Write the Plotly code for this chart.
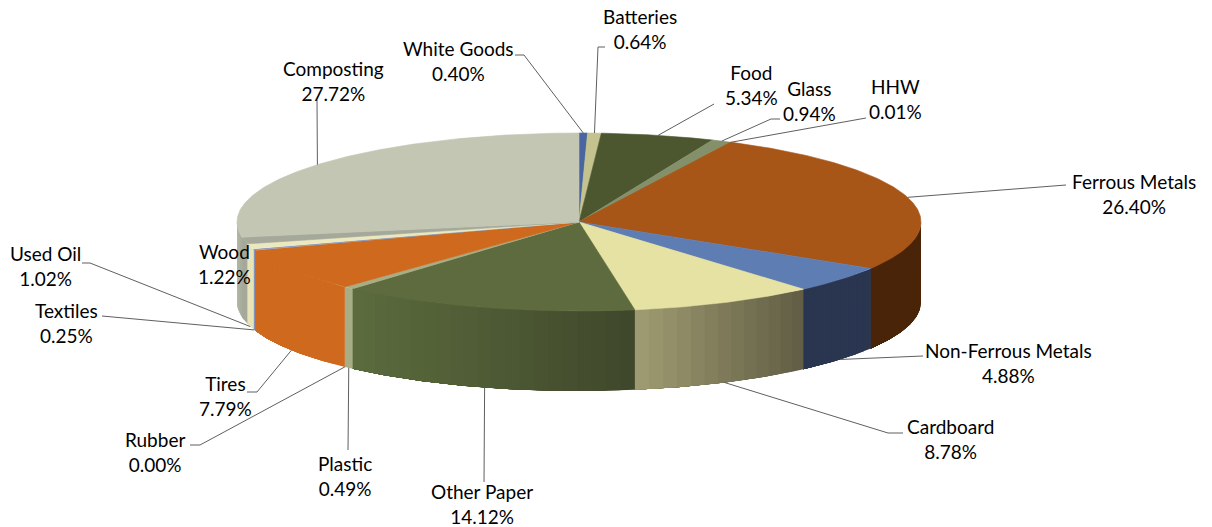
import math
import plotly.graph_objects as go

labels = ["White Goods", "Batteries", "Food", "Glass", "HHW", "Ferrous Metals", "Non-Ferrous Metals",
          "Cardboard", "Other Paper", "Plastic", "Rubber", "Tires", "Textiles", "Used Oil", "Wood", "Composting"]
values = [0.40, 0.64, 5.34, 0.94, 0.01, 26.40, 4.88, 8.78, 14.12, 0.49, 0.00, 7.79, 0.25, 1.02, 1.22, 27.72]
top_colors = ["#4A66A0", "#C4C28E", "#4C5730", "#84906A", "#A85518", "#A85518", "#5E7DB3", "#E6E2A3",
              "#5E6B3E", "#A7AE85", "#A7AE85", "#CF691E", "#8494B8", "#EBE7BE", "#A5A99A", "#C2C6B2"]
wall_left = ["#4A66A0", "#C4C28E", "#4C5730", "#84906A", "#4A2408", "#4A2408", "#2A3550", "#A09C72",
             "#5C6C3E", "#A7AE85", "#A7AE85", "#CF691E", "#8494B8", "#E8E3B8", "#A5A99A", "#B4B8A6"]
wall_right = ["#4A66A0", "#C4C28E", "#4C5730", "#84906A", "#4A2408", "#4A2408", "#2A3550", "#605D44",
              "#3F472A", "#A7AE85", "#A7AE85", "#CF691E", "#8494B8", "#E8E3B8", "#A5A99A", "#A5A99A"]

# label centre (x, y) and the leader's elbow points in page pixels; None = no leader
label_pos = [(458, 61), (640, 29), (751, 85), (809, 101), (895, 99), (1134, 194), (1008, 363),
             (950, 439), (482, 504), (345, 476), (155, 452), (225, 396), (66, 323), (45, 266), (224, 264), (333, 81)]
leader_pts = [[(515, 55), (524, 55)], [(605, 47), (598, 47)], [(714, 104)], [(780, 119), (771, 119)], [(866, 118)],
              [(1066, 185)], [(923, 356)], [(903, 433), (888, 433)], [(484, 482)], [(348, 450)],
              [(190, 445), (200, 445)], [(247, 392), (257, 392)], [(102, 316)], [(82, 263), (90, 263)], None, [(317, 100)]]

CX, CY, RX, RY, DEPTH = 579, 222, 342, 89, 80
FONT = "Lato"
FONT_SIZE = 19
LEADER = "#5F5F5F"


def pt(deg, drop=0):
    a = math.radians(deg)
    return CX + RX * math.sin(a), CY - RY * math.cos(a) + drop


def arc(a0, a1, drop=0, step=0.5):
    n = max(1, math.ceil(abs(a1 - a0) / step))
    return [pt(a0 + (a1 - a0) * i / n, drop) for i in range(n + 1)]


def mix(c0, c1, t):
    p = [int(c0[i:i + 2], 16) for i in (1, 3, 5)]
    q = [int(c1[i:i + 2], 16) for i in (1, 3, 5)]
    return "rgb(%d,%d,%d)" % tuple(round(a + (b - a) * t) for a, b in zip(p, q))


def poly(fig, pts, color, hover=None, line=0.6):
    xs = [p[0] for p in pts] + [pts[0][0]]
    ys = [p[1] for p in pts] + [pts[0][1]]
    fig.add_trace(go.Scatter(x=xs, y=ys, mode="lines", fill="toself", fillcolor=color,
                             line=dict(color=color, width=line), showlegend=False,
                             hoverinfo="text" if hover else "skip", text=hover, hoveron="fills"))


fig = go.Figure()
total = sum(values)
edges = [0.0]
for v in values:
    edges.append(edges[-1] + v / total * 360)

# side walls (only the front half, angles 90..270, is visible)
# each band runs to the end of its slice and the next one paints over it, so no seams show;
# the shading follows the horizontal position on the page
for i, lab in enumerate(labels):
    a0, a1 = max(edges[i], 90), min(edges[i + 1], 270)
    if a1 <= a0:
        continue
    x0, x1 = pt(a0)[0], pt(a1)[0]
    bands = max(1, math.ceil((a1 - a0) / 2.5))
    for b in range(bands):
        s0 = a0 + (a1 - a0) * b / bands
        s_mid = a0 + (a1 - a0) * (b + 0.5) / bands
        t = (pt(s_mid)[0] - x0) / (x1 - x0) if x1 != x0 else 0
        poly(fig, arc(s0, a1) + arc(a1, s0, DEPTH), mix(wall_right[i], wall_left[i], t), line=0)

# top faces
for i, lab in enumerate(labels):
    if values[i] <= 0:
        continue
    poly(fig, [(CX, CY)] + arc(edges[i], edges[i + 1]), top_colors[i], f"{lab}: {values[i]:.2f}%")

# leaders, which end on the rim at each slice's mid angle
for i, pts in enumerate(leader_pts):
    if pts is None:
        continue
    mid = (edges[i] + edges[i + 1]) / 2
    end = pt(mid, DEPTH if 90 < mid < 270 else 0)
    fig.add_trace(go.Scatter(x=[p[0] for p in pts] + [end[0]], y=[p[1] for p in pts] + [end[1]], mode="lines",
                             line=dict(color=LEADER, width=1), hoverinfo="skip", showlegend=False))

for lab, val, (x, y) in zip(labels, values, label_pos):
    fig.add_annotation(x=x, y=y, text=f"{lab}<br>{val:.2f}%", showarrow=False, xanchor="center", yanchor="middle",
                       align="center", font=dict(family=FONT, size=FONT_SIZE, color="#000000"))

fig.update_layout(width=1212, height=527, margin=dict(l=0, r=0, t=0, b=0), paper_bgcolor="white",
                  plot_bgcolor="white", showlegend=False,
                  xaxis=dict(range=[0, 1212], visible=False, fixedrange=True),
                  yaxis=dict(range=[527, 0], visible=False, fixedrange=True))
fig.write_html("out.html", config={"displayModeBar": False},
               post_script="document.body.style.margin='0';document.body.style.overflow='hidden';")
